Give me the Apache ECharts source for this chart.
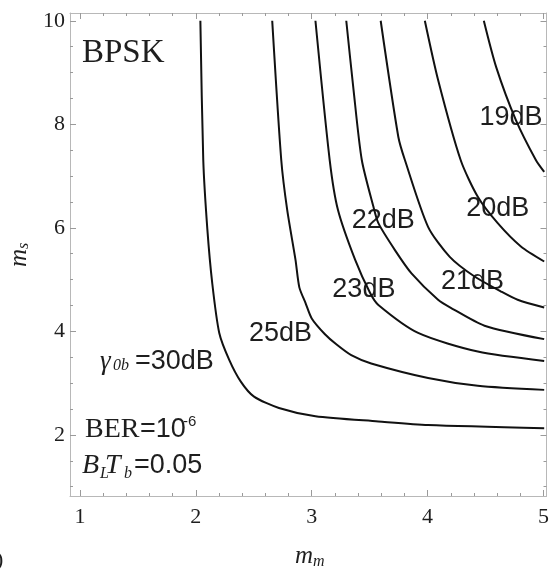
<!DOCTYPE html>
<html>
<head>
<meta charset="utf-8">
<script src="https://cdn.jsdelivr.net/npm/echarts@6/dist/echarts.min.js"></script>
<style>html,body{margin:0;padding:0;background:#fff;}#chart{width:552px;height:569px;}</style>
</head>
<body>
<div id="chart"></div>
<script>
// ---- Data ----
const xMajor = [1, 2, 3, 4, 5];
const xMinor = [1.2, 1.4, 1.6, 1.8, 2.2, 2.4, 2.6, 2.8, 3.2, 3.4, 3.6, 3.8, 4.2, 4.4, 4.6, 4.8];
const yMajor = [2, 4, 6, 8, 10];
const yMinor = [1, 1.5, 2.5, 3, 3.5, 4.5, 5, 5.5, 6.5, 7, 7.5, 8.5, 9, 9.5];

const curve30 = [[2.039,10],[2.064,7.31],[2.099,5.98],[2.142,4.92],[2.202,3.97],[2.288,3.45],[2.388,3.03],[2.502,2.74],[2.717,2.52],[3.032,2.36],[3.575,2.26],[4.004,2.19],[5.006,2.13]];
const curve25 = [[2.659,10],[2.737,7.31],[2.788,6.35],[2.860,5.38],[2.893,4.85],[2.946,4.55],[3.000,4.25],[3.112,3.95],[3.212,3.75],[3.341,3.54],[3.513,3.38],[4.004,3.10],[4.433,2.95],[5.006,2.87]];
const curve23 = [[3.032,10],[3.155,7.31],[3.226,6.35],[3.375,5.38],[3.504,4.74],[3.575,4.51],[3.918,3.97],[4.433,3.61],[5.006,3.43]];
const curve22 = [[3.298,10],[3.361,8.66],[3.432,7.31],[3.532,6.41],[3.575,6.09],[3.718,5.57],[3.861,5.12],[4.090,4.61],[4.204,4.45],[4.491,4.11],[5.006,3.85]];
const curve21 = [[3.595,10],[3.747,7.76],[3.804,7.31],[4.004,6.02],[4.191,5.44],[4.405,5.06],[4.634,4.77],[4.777,4.61],[5.006,4.46]];
const curve20 = [[3.976,10],[4.090,8.86],[4.285,7.31],[4.433,6.60],[4.605,6.09],[4.805,5.64],[5.006,5.35]];
const curve19 = [[4.485,10],[4.591,9.11],[4.762,8.08],[4.934,7.31],[5.006,7.08]];

const labelText = ['19dB', '20dB', '21dB', '22dB', '23dB', '25dB'];
const labelX = [4.72, 4.605, 4.388, 3.618, 3.45, 2.731];
const labelY = [8.13, 6.38, 4.97, 6.15, 4.80, 3.95];

const X_MIN = 0.914, X_MAX = 5.026, Y_MIN = 0.82, Y_MAX = 10.15;

// ---- Chart ----
const SERIF = '"Liberation Serif", "Times New Roman", serif';
const SANS = '"Liberation Sans", Arial, sans-serif';
const FRAME = '#b8b8b8', TICK = '#9a9a9a', TXT = '#1e1e1e';

function axis(kind, pos, vals, len, withLine, withLabel) {
  return {
    type: 'value', position: pos,
    min: kind === 'x' ? X_MIN : Y_MIN, max: kind === 'x' ? X_MAX : Y_MAX,
    axisLine: { show: withLine, onZero: false, lineStyle: { color: FRAME, width: 1 } },
    axisTick: { show: true, inside: true, length: len, customValues: vals, lineStyle: { color: TICK, width: 1 } },
    axisLabel: { show: withLabel, customValues: vals, fontFamily: SERIF, fontSize: 22, color: TXT, margin: kind === 'x' ? 10 : 5 },
    splitLine: { show: false }
  };
}

const chart = echarts.init(document.getElementById('chart'), null, { renderer: 'canvas' });
const curves = [curve30, curve25, curve23, curve22, curve21, curve20, curve19];
const series = curves.map(c => ({
  type: 'line', data: c, xAxisIndex: 0, yAxisIndex: 0,
  showSymbol: false, smooth: 0.25, silent: true,
  lineStyle: { color: '#111', width: 2 }
}));
series.push({
  type: 'scatter', xAxisIndex: 0, yAxisIndex: 0, symbolSize: 0, silent: true,
  itemStyle: { opacity: 1 },
  data: labelText.map((t, i) => [labelX[i], labelY[i], t]),
  label: { show: true, position: 'inside', formatter: p => p.value[2], fontFamily: SANS, fontSize: 27,
    color: TXT, opacity: 1, textBorderWidth: 0, textBorderColor: 'transparent' }
});

function t(x, y, text, size, family, style, extra) {
  return Object.assign({ type: 'text', x: x, y: y, silent: true,
    style: { text: text, fontSize: size, fontFamily: family, fontStyle: style || 'normal', fill: TXT, verticalAlign: 'middle', align: 'left' } }, extra || {});
}

chart.setOption({
  animation: false,
  backgroundColor: '#fff',
  grid: { left: 70, right: 3, top: 13, bottom: 73, containLabel: false },
  xAxis: [
    axis('x', 'bottom', xMajor, 6, true, true),
    axis('x', 'bottom', xMinor, 3, false, false),
    axis('x', 'top', xMajor, 6, true, false),
    axis('x', 'top', xMinor, 3, false, false)
  ],
  yAxis: [
    axis('y', 'left', yMajor, 6, true, true),
    axis('y', 'left', yMinor, 3, false, false),
    axis('y', 'right', yMajor, 6, true, false),
    axis('y', 'right', yMinor, 3, false, false)
  ],
  series: series,
  graphic: [
    t(82, 53, 'BPSK', 33, SERIF),
    t(100, 362, 'γ', 27, SERIF, 'italic'),
    t(113, 366, '0b', 16, SERIF, 'italic'),
    t(135, 362, '=30dB', 27, SANS),
    t(85, 430, 'BER', 28, SERIF),
    t(140, 430, '=10', 27, SANS),
    t(183, 422, '-6', 15, SANS),
    t(82, 466, 'B', 28, SERIF, 'italic'),
    t(100, 474, 'L', 16, SERIF, 'italic'),
    t(105, 466, 'T', 28, SERIF, 'italic'),
    t(124, 474, 'b', 16, SERIF, 'italic'),
    t(134, 466, '=0.05', 27, SANS),
    t(295, 556, 'm', 25, SERIF, 'italic'),
    t(313, 562, 'm', 16, SERIF, 'italic'),
    { type: 'group', x: 20, y: 257, rotation: Math.PI / 2, silent: true, children: [
      t(-10, -1, 'm', 25, SERIF, 'italic'),
      t(8, 4, 's', 16, SERIF, 'italic')
    ] },
    t(-4, 560, ')', 22, SERIF)
  ]
});
</script>
</body>
</html>
